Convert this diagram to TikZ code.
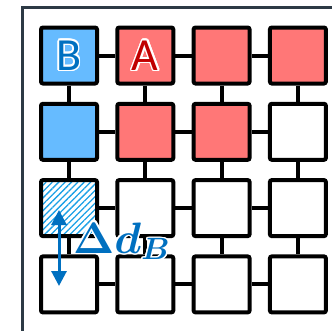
\RequirePackage{fix-cm}
\documentclass[tikz,border=0pt]{standalone}
\usepackage{fontspec}
\newfontfamily\cellfont{Carlito}
\usetikzlibrary{arrows.meta,patterns.meta}

\definecolor{framegray}{RGB}{45,58,69}
\definecolor{cellblue}{RGB}{102,187,255}
\definecolor{cellred}{RGB}{255,119,119}
\definecolor{markblue}{RGB}{0,112,192}
\definecolor{markred}{RGB}{192,0,0}
\definecolor{hatchblue}{RGB}{26,160,230}

% text with a thin outline round the letters
\newcommand{\outlined}[3]{%
  \leavevmode\rlap{\foreach \a in {0,22.5,...,337.5}{%
    \pgfmathsetmacro\dx{1.5*cos(\a)}\pgfmathsetmacro\dy{1.5*sin(\a)}%
    \rlap{\hspace*{\dx pt}\raisebox{\dy pt}{\color{#1}#3}}}}%
  {\color{#2}#3}}

\tikzset{
  cell/.style={draw=black,line width=4pt,rounded corners=2pt,minimum size=56pt,inner sep=0pt,fill=white},
  link/.style={line width=4pt},
  letter/.style={inner sep=0pt,font=\cellfont\fontsize{46}{46}\selectfont}
}

\begin{document}
\begin{tikzpicture}[x=1pt,y=-1pt]
    \useasboundingbox (0,0) rectangle (332,330);
    \begin{scope}
        \clip (0,0) rectangle (332,330);
        \draw[framegray,line width=3pt] (22.5,7) rectangle (350,350);
    \end{scope}

    % grid of cells
    \foreach \c/\f in {1/cellblue,2/cellred,3/cellred,4/cellred}
        \node[cell,fill=\f] (n1\c) at ({69+76.3*(\c-1)},55.5) {};
    \foreach \c/\f in {1/cellblue,2/cellred,3/cellred,4/white}
        \node[cell,fill=\f] (n2\c) at ({69+76.3*(\c-1)},131.8) {};
    \node[cell,fill=none,pattern={Lines[angle=45,distance=4.5pt,line width=1.3pt]},pattern color=hatchblue] (n31) at (69,208.1) {};
    \foreach \c in {2,3,4}
        \node[cell] (n3\c) at ({69+76.3*(\c-1)},208.1) {};
    \foreach \c in {1,...,4}
        \node[cell] (n4\c) at ({69+76.3*(\c-1)},284.4) {};

    % links
    \foreach \r in {1,...,4}
        \foreach \c/\d in {1/2,2/3,3/4} {
            \draw[link] (n\r\c) -- (n\r\d);
            \draw[link] (n\c\r) -- (n\d\r);
        }

    \node[letter] (labB) at (n11.center) {\outlined{white}{markblue}{B}};
    \node[letter] (labA) at (n12.center) {\outlined{white}{markred}{A}};

    % shift of B
    \coordinate (shtop) at (59,210);
    \coordinate (shbot) at (59,286);
    \draw[markblue,line width=3pt,{Triangle[width=15pt,length=15pt]}-{Triangle[width=15pt,length=15pt]}] (shtop) -- (shbot);
    \node[anchor=base west,inner sep=0pt,font=\fontsize{44}{44}\selectfont\boldmath] (dB) at (73,253) {\outlined{white}{markblue}{$\Delta d_B$}};
\end{tikzpicture}
\end{document}
